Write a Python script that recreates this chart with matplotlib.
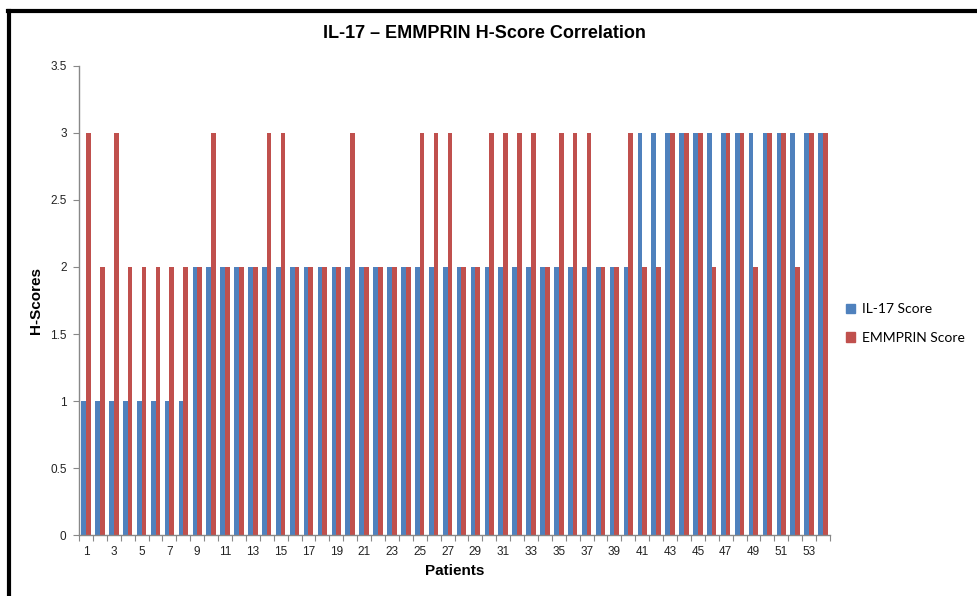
import matplotlib
matplotlib.use("Agg")
import matplotlib.pyplot as plt
import numpy as np
from matplotlib.lines import Line2D

patients = list(range(1, 55))
il17_scores = [1, 1, 1, 1, 1, 1, 1, 1,
               2, 2, 2, 2, 2, 2, 2, 2, 2, 2,
               2, 2, 2, 2, 2, 2, 2, 2, 2, 2,
               2, 2, 2, 2, 2, 2, 2, 2, 2, 2,
               2, 2,
               3, 3, 3, 3, 3, 3, 3, 3, 3, 3, 3, 3, 3, 3]
emmprin_scores = [3, 2, 3, 2, 2, 2, 2, 2,
                  2, 3, 2, 2, 2, 3, 3, 2, 2, 2,
                  2, 3, 2, 2, 2, 2, 3, 3, 3, 2,
                  2, 3, 3, 3, 3, 2, 3, 3, 3, 2,
                  2, 3,
                  2, 2, 3, 3, 3, 2, 3, 3, 2, 3, 3, 2, 3, 3]
series_names = ["IL-17 Score", "EMMPRIN Score"]
y_ticks = [0, 0.5, 1, 1.5, 2, 2.5, 3, 3.5]
y_ticklabels = ["0", "0.5", "1", "1.5", "2", "2.5", "3", "3.5"]

plt.rcParams['font.family'] = ['Liberation Sans', 'DejaVu Sans']

fig = plt.figure(figsize=(9.77, 5.96), dpi=100)
ax = fig.add_axes([0.0809, 0.1023, 0.7686, 0.787])

x = np.array(patients)
w = 0.34
blue = "#4F81BD"
red = "#C0504D"
ax.bar(x - w / 2, il17_scores, width=w, color=blue, label=series_names[0], linewidth=0)
ax.bar(x + w / 2, emmprin_scores, width=w, color=red, label=series_names[1], linewidth=0)

ax.set_xlim(0.5, len(patients) + 0.5)
ax.set_ylim(0, 3.5)
ax.set_yticks(y_ticks)
ax.set_yticklabels(y_ticklabels)

# x: boundary ticks (major) and labels at odd categories (minor)
ax.set_xticks(np.arange(0.5, len(patients) + 1, 1.0))
ax.set_xticklabels([])
odd = [p for p in patients if p % 2 == 1]
ax.set_xticks(odd, minor=True)
ax.set_xticklabels([str(p) for p in odd], minor=True)
ax.tick_params(axis='x', which='major', direction='out', length=4, color='#888888')
ax.tick_params(axis='x', which='minor', length=0, labelsize=8.5, pad=8, labelcolor='#222222')
ax.tick_params(axis='y', direction='out', length=4, color='#888888', labelsize=8.5,
               labelcolor='#222222', pad=5)

for s in ['top', 'right']:
    ax.spines[s].set_visible(False)
for s in ['left', 'bottom']:
    ax.spines[s].set_color('#888888')
    ax.spines[s].set_linewidth(1.0)

ax.set_xlabel("Patients", fontsize=11, fontweight='bold')
ax.xaxis.set_label_coords(0.5, -0.062)
ax.set_ylabel("H-Scores", fontsize=11, fontweight='bold')
ax.yaxis.set_label_coords(-0.048, 0.5)

fig.text(0.4955, 0.944, "IL-17 – EMMPRIN H-Score Correlation", ha='center', va='center',
         fontsize=13, fontweight='bold')

handles = [plt.Rectangle((0, 0), 1, 1, color=blue), plt.Rectangle((0, 0), 1, 1, color=red)]
fig.legend(handles, series_names, loc='center left', bbox_to_anchor=(0.853, 0.457),
           frameon=False, prop={'family': ['Lato', 'DejaVu Sans'], 'size': 10},
           handlelength=0.65, handleheight=0.65, handletextpad=0.5, labelspacing=1.2)

# outer frame lines (top and left)
fig.add_artist(Line2D([0.0085, 1.0], [0.981, 0.981], transform=fig.transFigure, color='black', linewidth=3))
fig.add_artist(Line2D([0.0093, 0.0093], [0.0, 0.982], transform=fig.transFigure, color='black', linewidth=3))

fig.savefig("out.png", dpi=100)
